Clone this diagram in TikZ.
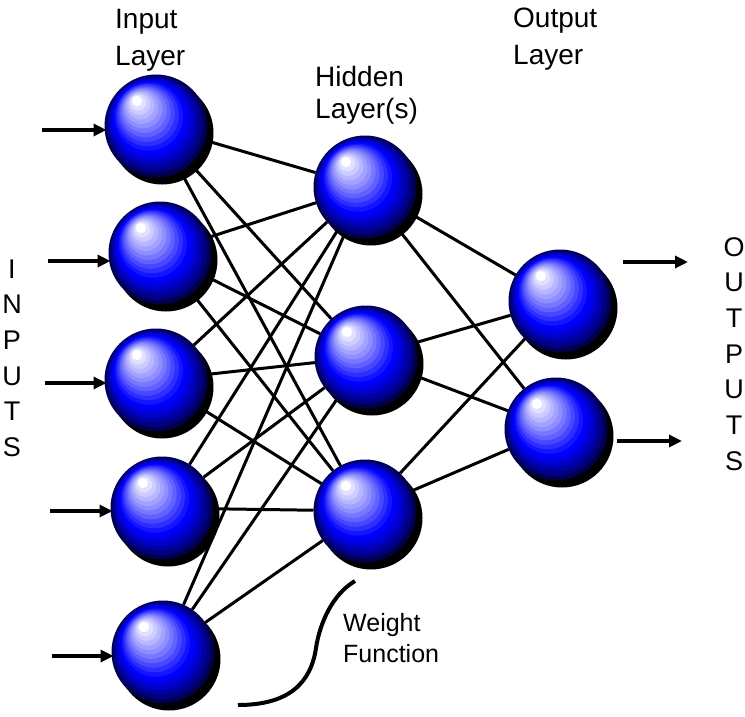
\documentclass[tikz,border=0pt]{standalone}
\usepackage{fontspec}
\setmainfont{Liberation Sans}
\usetikzlibrary{arrows.meta}

\tikzset{
  neuron/.style={circle, minimum size=103pt, inner sep=0pt, outer sep=0pt},
  link/.style={line width=3pt, black},
  signal/.style={line width=4pt, black, -{Triangle[length=13pt,width=12pt]}},
  layertext/.style={font=\fontsize{28}{28}\selectfont, anchor=base west, inner sep=0pt},
  vletter/.style={font=\fontsize{27}{27}\selectfont, anchor=base, inner sep=0pt},
  weighttext/.style={font=\fontsize{25}{25}\selectfont, anchor=base west, inner sep=0pt},
}

% A glossy ball: drop shadow, then nested discs shrinking towards the highlight
\newcommand\shadeball[1]{%
  \fill[black] ([shift={(6,7)}]#1.center) circle (51.5);
  \foreach \k/\col in {0/blue!30!black,1/blue!50!black,2/blue!64!black,
      3/blue!78!black,4/blue!90!black,5/blue,6/blue!92!white,
      7/blue!82!white,8/blue!72!white,9/blue!62!white,10/blue!53!white,
      11/blue!44!white,12/blue!36!white,13/blue!28!white,14/blue!20!white,
      15/blue!12!white,16/white}{%
    \pgfmathsetmacro\dx{-19*\k/16}%
    \pgfmathsetmacro\dy{-25*\k/16}%
    \pgfmathsetmacro\rr{51.5*(1-0.9*\k/16)}%
    \fill[\col] ([shift={(\dx,\dy)}]#1.center) circle (\rr);
  }%
}

\begin{document}
\begin{tikzpicture}[x=1pt,y=-1pt]
\useasboundingbox (0,0) rectangle (745,717);

% neurons
\node[neuron] (I1) at (156,126) {};
\node[neuron] (I2) at (160,253) {};
\node[neuron] (I3) at (156,380) {};
\node[neuron] (I4) at (162,508) {};
\node[neuron] (I5) at (163,652) {};
\node[neuron] (H1) at (365,187) {};
\node[neuron] (H2) at (366,357) {};
\node[neuron] (H3) at (365,511) {};
\node[neuron] (O1) at (560,301) {};
\node[neuron] (O2) at (556,429) {};

% weighted connections
\foreach \i in {1,...,5}{
  \foreach \h in {1,2,3}{
    \draw[link] (I\i) -- (H\h);
  }
}
\foreach \h in {1,2,3}{
  \foreach \o in {1,2}{
    \draw[link] (H\h) -- (O\o);
  }
}

% balls on top of the connections
\foreach \n in {I1,I2,I3,I4,I5,H1,H2,H3,O1,O2}{\shadeball{\n}}

% input signals
\coordinate (in1) at (42,130);
\coordinate (in2) at (48,261);
\coordinate (in3) at (45,383);
\coordinate (in4) at (50,511);
\coordinate (in5) at (52,656);
\foreach \i in {1,...,5}{
  \draw[signal] (in\i) -- ([xshift=2pt]I\i.west |- in\i);
}

% output signals
\coordinate (out1s) at (623,262);
\coordinate (out1e) at (688,262);
\coordinate (out2s) at (617,441);
\coordinate (out2e) at (682,441);
\draw[signal] (out1s) -- (out1e);
\draw[signal] (out2s) -- (out2e);

% layer captions
\node[layertext] (inA) at (115,29) {Input};
\node[layertext] (inB) at (115,66) {Layer};
\node[layertext] (hidA) at (315,87) {Hidden};
\node[layertext] (hidB) at (315,118) {Layer(s)};
\node[layertext] (outA) at (513,28) {Output};
\node[layertext] (outB) at (513,65) {Layer};

% vertical words
\foreach \c [count=\j from 0] in {I,N,P,U,T,S}{
  \node[vletter] (inl\j) at (12,{278+35.7*\j}) {\c};
}
\foreach \c [count=\j from 0] in {O,U,T,P,U,T,S}{
  \node[vletter] (outl\j) at (734,{256+35.7*\j}) {\c};
}

% weight function sketch
\coordinate (wtop) at (355,581);
\coordinate (wbot) at (238,705);
\draw[line width=4pt] (wtop) .. controls (333,594) and (320,622) .. (316,648)
  .. controls (311,682) and (290,705) .. (wbot);
\node[weighttext] (wA) at (343,631) {Weight};
\node[weighttext] (wB) at (343,662) {Function};
\end{tikzpicture}
\end{document}
